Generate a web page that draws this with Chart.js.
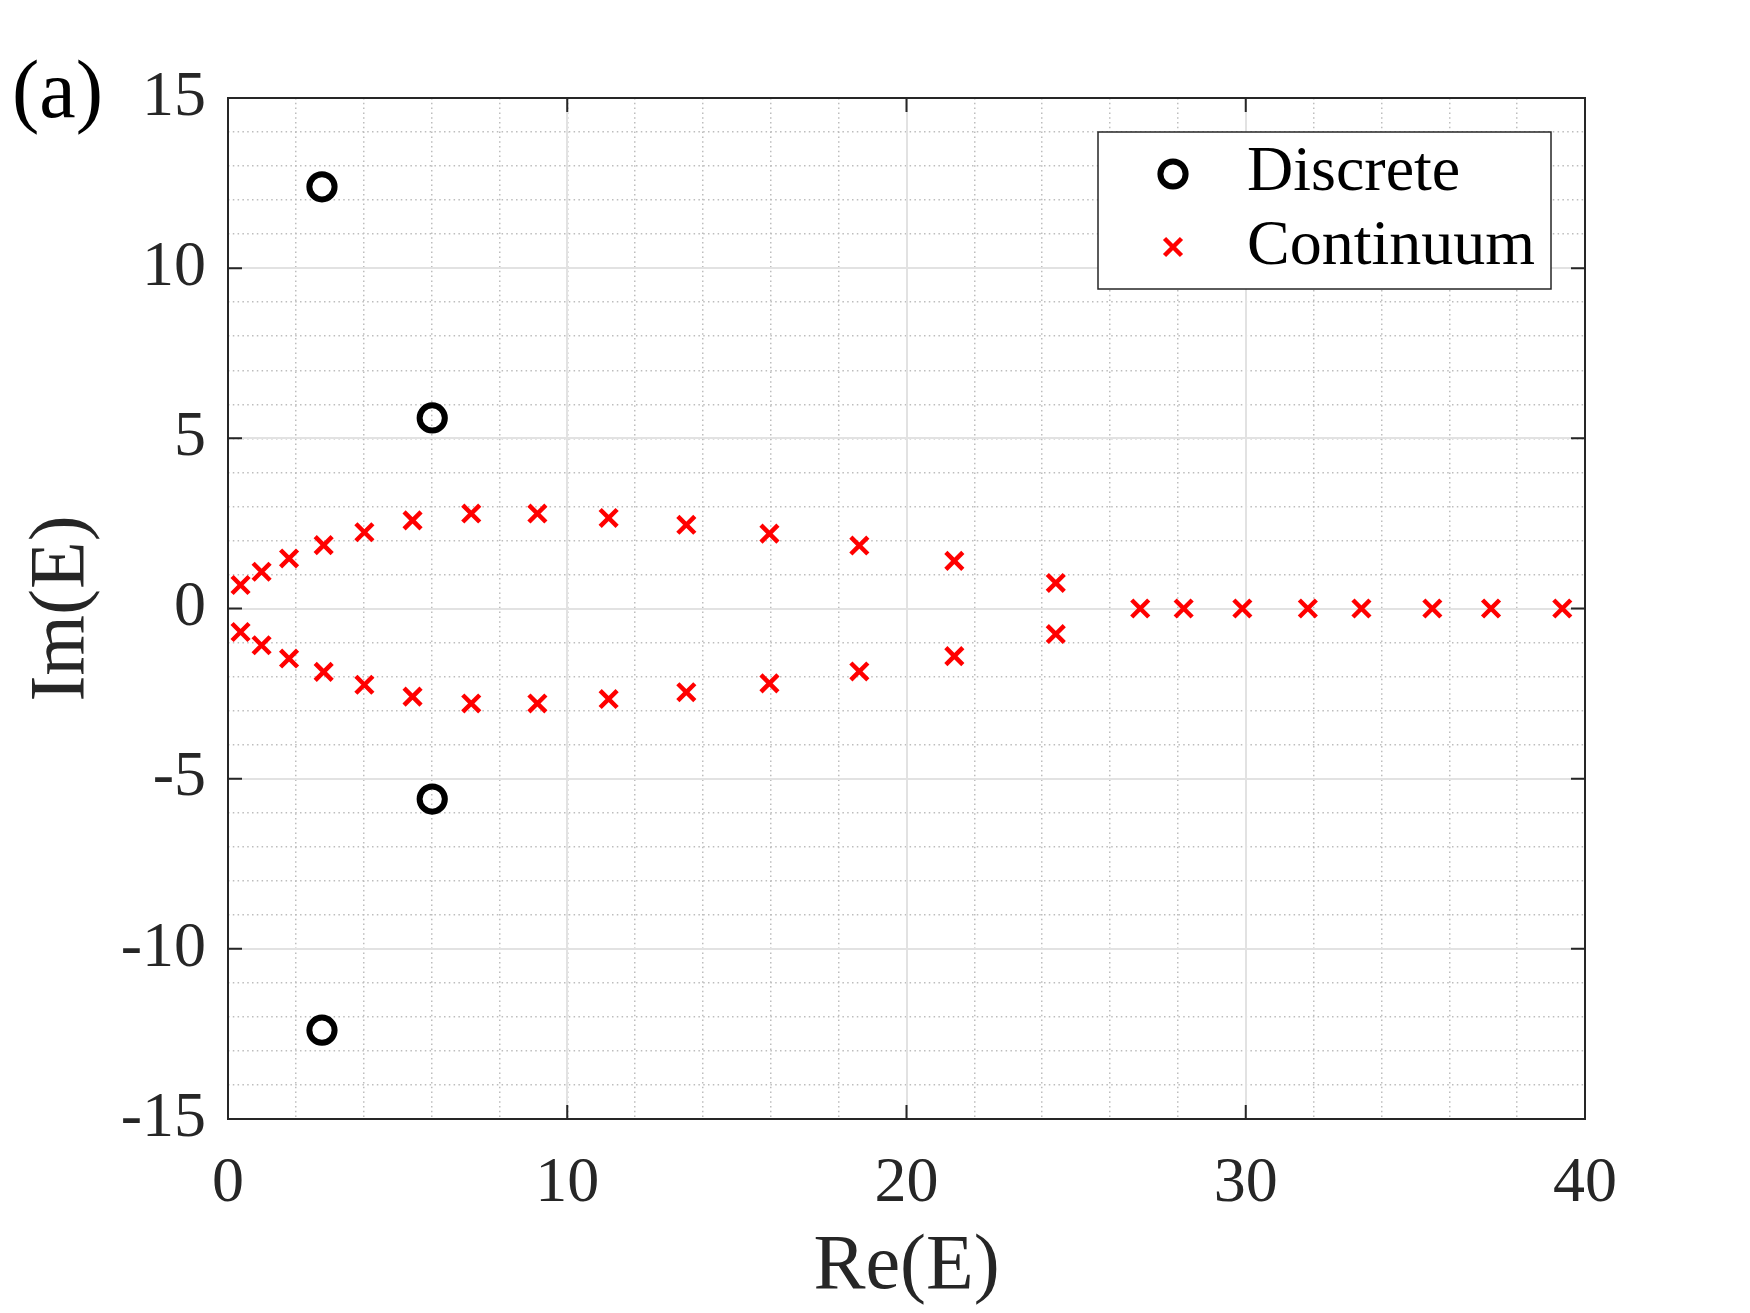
<!DOCTYPE html>
<html>
<head>
<meta charset="utf-8">
<script src="https://cdn.jsdelivr.net/npm/chart.js@4.4.1/dist/chart.umd.min.js"></script>
<style>
html,body{margin:0;padding:0;background:#ffffff;}
canvas{display:block;}
</style>
</head>
<body>
<canvas id="c" width="1750" height="1313"></canvas>
<script>
// ---- data ----
const discreteRe = [2.77, 6.02, 6.02, 2.77];
const discreteIm = [12.39, 5.60, -5.60, -12.39];

const continuumRe = [
  0.37, 0.99, 1.80, 2.82, 4.02, 5.44, 7.17, 9.12, 11.22, 13.51, 15.96, 18.61, 21.41, 24.40,
  0.37, 0.99, 1.80, 2.82, 4.02, 5.44, 7.17, 9.12, 11.22, 13.51, 15.96, 18.61, 21.41, 24.40,
  26.89, 28.17, 29.90, 31.83, 33.41, 35.50, 37.23, 39.33
];
const continuumIm = [
  0.69, 1.08, 1.47, 1.86, 2.24, 2.59, 2.79, 2.79, 2.66, 2.46, 2.20, 1.85, 1.40, 0.75,
  -0.69, -1.08, -1.47, -1.86, -2.24, -2.59, -2.79, -2.79, -2.66, -2.46, -2.20, -1.85, -1.40, -0.75,
  0, 0, 0, 0, 0, 0, 0, 0
];

const seriesLabels = ['Discrete', 'Continuum'];
const xTickValues = [0, 10, 20, 30, 40];
const yTickValues = [-15, -10, -5, 0, 5, 10, 15];
const xMinorValues = [0, 2, 4, 6, 8, 10, 12, 14, 16, 18, 20, 22, 24, 26, 28, 30, 32, 34, 36, 38, 40];
const yMinorValues = [-15, -14, -13, -12, -11, -10, -9, -8, -7, -6, -5, -4, -3, -2, -1, 0, 1, 2, 3, 4, 5, 6, 7, 8, 9, 10, 11, 12, 13, 14, 15];
const xTitle = 'Re(E)';
const yTitle = 'Im(E)';
const panelLabel = '(a)';

// ---- styling ----
const SERIF = "'Liberation Serif', 'DejaVu Serif', serif";
const AXIS_COLOR = '#262626';
const MAJOR_GRID = '#e2e2e2';
const MINOR_GRID = '#bdbdbd';

const toPoints = (xs, ys) => xs.map((x, i) => ({x: x, y: ys[i]}));

const fixedTicks = vals => scale => { scale.ticks = vals.map(v => ({value: v})); };

const framePlugin = {
  id: 'frame',
  afterDatasetsDraw(chart) {
    const {ctx, chartArea: a, scales} = chart;
    ctx.save();
    ctx.strokeStyle = AXIS_COLOR;
    ctx.lineWidth = 2;
    ctx.strokeRect(a.left, a.top, a.right - a.left, a.bottom - a.top);
    const L = 14;
    ctx.beginPath();
    xTickValues.forEach(v => {
      const px = scales.x.getPixelForValue(v);
      ctx.moveTo(px, a.bottom); ctx.lineTo(px, a.bottom - L);
      ctx.moveTo(px, a.top); ctx.lineTo(px, a.top + L);
    });
    yTickValues.forEach(v => {
      const py = scales.y.getPixelForValue(v);
      ctx.moveTo(a.left, py); ctx.lineTo(a.left + L, py);
      ctx.moveTo(a.right, py); ctx.lineTo(a.right - L, py);
    });
    ctx.stroke();
    ctx.restore();
  }
};

const legendBoxPlugin = {
  id: 'legendBox',
  afterDraw(chart) {
    const {ctx} = chart;
    const box = {x: 1098, y: 132, w: 453, h: 157};
    ctx.save();
    ctx.fillStyle = '#ffffff';
    ctx.fillRect(box.x, box.y, box.w, box.h);
    ctx.strokeStyle = AXIS_COLOR;
    ctx.lineWidth = 1.5;
    ctx.strokeRect(box.x, box.y, box.w, box.h);
    const rows = [{my: 174, by: 190}, {my: 247, by: 264}];
    chart.data.datasets.forEach((ds, i) => {
      ctx.save();
      ctx.strokeStyle = ds.borderColor;
      ctx.fillStyle = 'rgba(0,0,0,0)';
      ctx.lineWidth = ds.borderWidth;
      Chart.helpers.drawPoint(ctx, {
        pointStyle: ds.pointStyle,
        radius: ds.pointRadius,
        borderWidth: ds.borderWidth,
        rotation: 0
      }, 1173, rows[i].my);
      ctx.restore();
      ctx.fillStyle = '#000000';
      ctx.font = '64px ' + SERIF;
      ctx.textAlign = 'left';
      ctx.textBaseline = 'alphabetic';
      ctx.fillText(ds.label, 1247, rows[i].by);
    });
    // panel label
    ctx.fillStyle = '#000000';
    ctx.font = '82px ' + SERIF;
    ctx.textAlign = 'left';
    ctx.textBaseline = 'middle';
    ctx.fillText(panelLabel, 12, 95);
    ctx.restore();
  }
};

new Chart(document.getElementById('c'), {
  type: 'scatter',
  data: {
    datasets: [
      {
        label: seriesLabels[0],
        data: toPoints(discreteRe, discreteIm),
        pointStyle: 'circle',
        pointRadius: 12.6,
        borderWidth: 6,
        borderColor: '#000000',
        backgroundColor: 'rgba(0,0,0,0)',
        pointHoverRadius: 12.6
      },
      {
        label: seriesLabels[1],
        data: toPoints(continuumRe, continuumIm),
        pointStyle: 'crossRot',
        pointRadius: 12,
        borderWidth: 4.5,
        borderColor: '#ff0000',
        backgroundColor: '#ff0000',
        pointHoverRadius: 12
      }
    ]
  },
  options: {
    responsive: false,
    devicePixelRatio: 1,
    animation: false,
    events: [],
    layout: {padding: {top: 98, right: 165, left: 0, bottom: 0}},
    plugins: {
      legend: {display: false},
      tooltip: {enabled: false},
      title: {display: false}
    },
    scales: {
      xMinor: {
        type: 'linear', position: 'bottom', min: 0, max: 40,
        afterBuildTicks: fixedTicks(xMinorValues),
        afterFit: s => { s.height = 0; },
        ticks: {display: false},
        grid: {color: MINOR_GRID, lineWidth: 1.5, drawTicks: false, z: -2},
        border: {display: false, dash: [1.5, 3.3]}
      },
      yMinor: {
        type: 'linear', position: 'left', min: -15, max: 15,
        afterBuildTicks: fixedTicks(yMinorValues),
        afterFit: s => { s.width = 0; },
        ticks: {display: false},
        grid: {color: MINOR_GRID, lineWidth: 1.5, drawTicks: false, z: -2},
        border: {display: false, dash: [1.5, 3.3]}
      },
      x: {
        type: 'linear', position: 'bottom', min: 0, max: 40,
        afterBuildTicks: fixedTicks(xTickValues),
        afterFit: s => { s.height = 194; },
        ticks: {color: AXIS_COLOR, font: {family: SERIF, size: 64}, padding: 27, maxRotation: 0},
        grid: {color: MAJOR_GRID, lineWidth: 2, drawTicks: false, z: -1},
        border: {display: false},
        title: {display: true, text: xTitle, color: AXIS_COLOR,
                font: {family: SERIF, size: 78, lineHeight: 1}, padding: {top: 0, bottom: 6}}
      },
      y: {
        type: 'linear', position: 'left', min: -15, max: 15,
        afterBuildTicks: fixedTicks(yTickValues),
        afterFit: s => { s.width = 228; },
        ticks: {color: AXIS_COLOR, font: {family: SERIF, size: 64}, padding: 22},
        grid: {color: MAJOR_GRID, lineWidth: 2, drawTicks: false, z: -1},
        border: {display: false},
        title: {display: true, text: yTitle, color: AXIS_COLOR,
                font: {family: SERIF, size: 78, lineHeight: 1}, padding: {top: 24, bottom: 0}}
      }
    }
  },
  plugins: [framePlugin, legendBoxPlugin]
});
</script>
</body>
</html>
